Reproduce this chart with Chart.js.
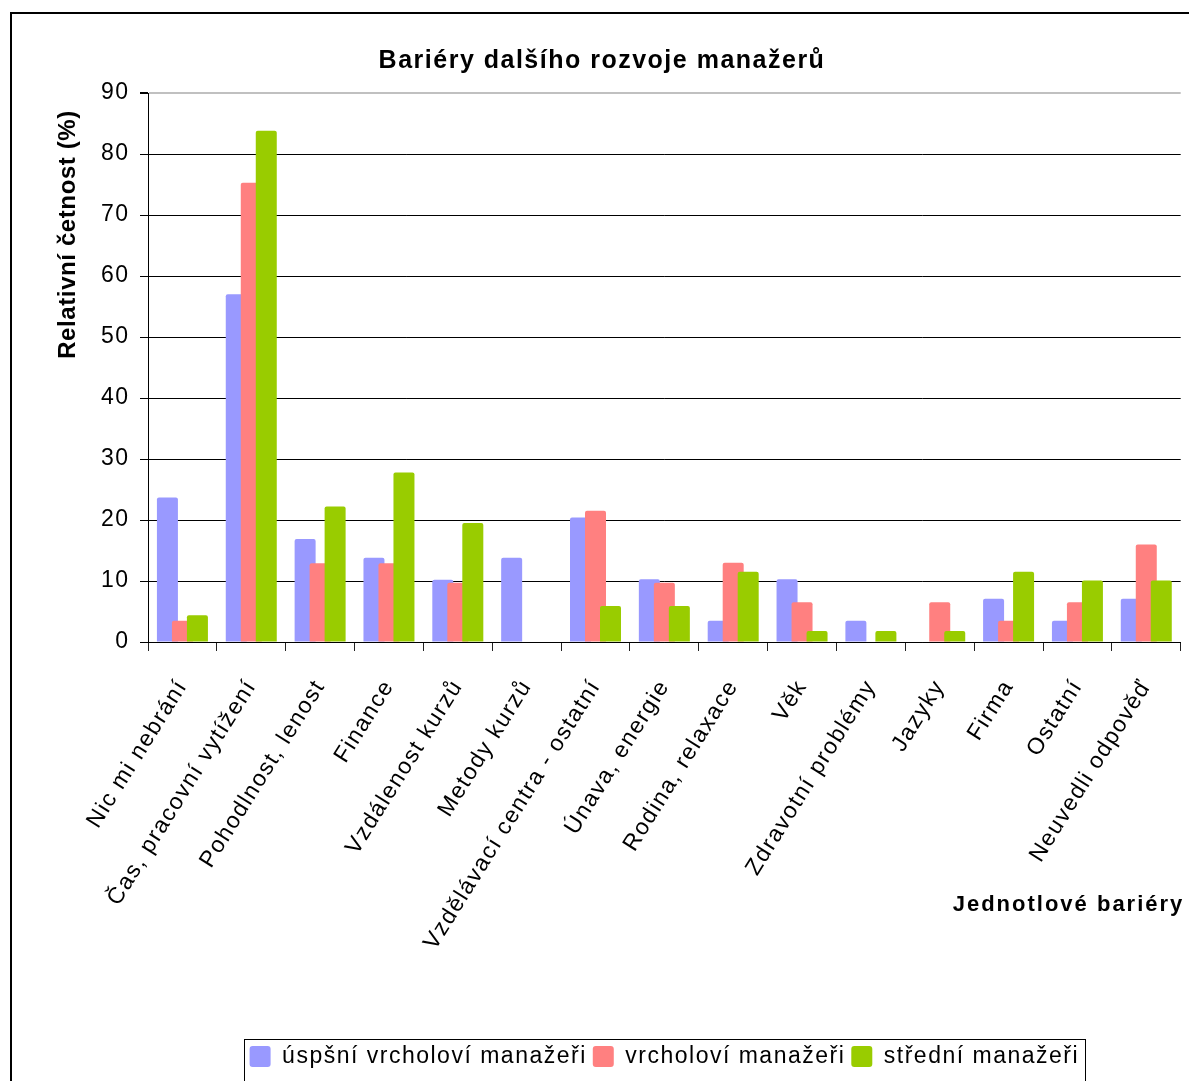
<!DOCTYPE html>
<html>
<head>
<meta charset="utf-8">
<title>Bariéry dalšího rozvoje manažerů</title>
<script src="https://cdn.jsdelivr.net/npm/chart.js@4.4.1/dist/chart.umd.min.js"></script>
<style>
  html, body { margin: 0; padding: 0; background: #fff; overflow: hidden; width: 1189px; height: 1081px; }
  #frame { position: absolute; left: 10px; top: 12px; width: 1400px; height: 1400px;
           border-top: 2px solid #000; border-left: 2px solid #000; }
  #wrap { position: absolute; left: 0; top: 0; width: 1204px; height: 1081px; }
</style>
</head>
<body>
<div id="frame"></div>
<div id="wrap"><canvas id="chart" width="1204" height="1081"></canvas></div>
<script>
// Barriers listed on the category axis
const categories = [
  'Nic mi nebrání',
  'Čas, pracovní vytížení',
  'Pohodlnost, lenost',
  'Finance',
  'Vzdálenost kurzů',
  'Metody kurzů',
  'Vzdělávací centra - ostatní',
  'Únava, energie',
  'Rodina, relaxace',
  'Věk',
  'Zdravotní problémy',
  'Jazyky',
  'Firma',
  'Ostatní',
  'Neuvedli odpověď'
];

// Relative frequency (%) for each manager group
const uspesniVrcholovi = [23.7, 57.0, 16.9, 13.8, 10.2, 13.8, 20.4, 10.3, 3.5, 10.3, 3.5, 0, 7.1, 3.5, 7.1];
const vrcholovi        = [3.5, 75.3, 12.9, 12.9, 9.7, 0, 21.5, 9.7, 13.0, 6.5, 0, 6.5, 3.5, 6.5, 16.0];
const stredni          = [4.4, 83.8, 22.2, 27.8, 19.5, 0, 5.9, 5.9, 11.5, 1.8, 1.8, 1.8, 11.5, 10.1, 10.1];

const seriesNames = ['úspšní vrcholoví manažeři', 'vrcholoví manažeři', 'střední manažeři'];
const seriesColors = ['#9999FF', '#FF8080', '#99CC00'];

// Value axis ticks
const yTicks = [0, 10, 20, 30, 40, 50, 60, 70, 80, 90];

const chartTitle = 'Bariéry dalšího rozvoje manažerů';
const yTitle = 'Relativní četnost (%)';
const xTitle = 'Jednotlové bariéry';

const FONT = '"Liberation Sans", Arial, sans-serif';
Chart.defaults.font.family = FONT;
Chart.defaults.color = '#000';

// Slightly widened letter spacing for the canvas text
const spacing = {
  id: 'spacing',
  beforeUpdate(chart) { chart.ctx.letterSpacing = '1.5px'; },
  beforeDraw(chart) { chart.ctx.letterSpacing = '1.5px'; }
};

// Draw the series in order so later bars overlap earlier ones
const paintOrder = {
  id: 'paintOrder',
  beforeDatasetsDraw(chart) {
    for (let i = 0; i < chart.data.datasets.length; i++) {
      const meta = chart.getDatasetMeta(i);
      if (meta.visible) meta.controller.draw();
    }
    return false;
  }
};

// Plot frame on the right, legend frame and both axis captions
const decorations = {
  id: 'decorations',
  beforeDatasetsDraw(chart) {
    const { ctx, chartArea } = chart;
    ctx.save();
    ctx.strokeStyle = '#c0c0c0';
    ctx.lineWidth = 2;
    ctx.beginPath();
    ctx.moveTo(chartArea.right, chartArea.top - 1);
    ctx.lineTo(chartArea.right, chartArea.bottom);
    ctx.stroke();
    ctx.restore();
  },
  afterDraw(chart) {
    const { ctx, chartArea, legend } = chart;
    ctx.save();
    const boxes = legend.legendHitBoxes;
    if (boxes && boxes.length) {
      const first = boxes[0], last = boxes[boxes.length - 1];
      const left = Math.round(first.left - 6) + 0.5;
      const right = Math.round(last.left + last.width + 6) + 0.5;
      const top = Math.round(legend.top) + 0.5;
      ctx.strokeStyle = '#000';
      ctx.lineWidth = 1;
      ctx.strokeRect(left, top, right - left, 42.5);
    }
    ctx.fillStyle = '#000';
    ctx.textBaseline = 'middle';

    // category axis caption
    ctx.letterSpacing = '2px';
    ctx.font = 'bold 22px ' + FONT;
    ctx.textAlign = 'left';
    ctx.fillText(xTitle, chartArea.right - 228, chartArea.bottom + 263);

    // value axis caption
    ctx.letterSpacing = '0.6px';
    ctx.font = 'bold 24px ' + FONT;
    ctx.textAlign = 'center';
    ctx.translate(68, chartArea.top + 141.5);
    ctx.rotate(-Math.PI / 2);
    ctx.fillText(yTitle, 0, 0);
    ctx.restore();
  }
};

const datasets = [uspesniVrcholovi, vrcholovi, stredni].map((values, i) => ({
  label: seriesNames[i],
  data: values,
  backgroundColor: seriesColors[i],
  borderWidth: 0,
  borderRadius: { topLeft: 2, topRight: 2, bottomLeft: 0, bottomRight: 0 },
  borderSkipped: 'bottom',
  categoryPercentage: 0.6536,
  barPercentage: 1.4
}));

new Chart(document.getElementById('chart'), {
  type: 'bar',
  data: { labels: categories, datasets },
  plugins: [spacing, paintOrder, decorations],
  options: {
    responsive: false,
    animation: false,
    devicePixelRatio: 1,
    layout: { padding: { left: 0, right: 0, top: 0, bottom: 3 } },
    plugins: {
      title: {
        display: true,
        text: chartTitle,
        font: { size: 25, weight: 'bold' },
        color: '#000',
        padding: { top: 46, bottom: 17 }
      },
      legend: {
        position: 'bottom',
        fullSize: false,
        labels: {
          font: { size: 23 },
          color: '#000',
          boxWidth: 21,
          boxHeight: 21,
          useBorderRadius: true,
          borderRadius: 3,
          padding: 6
        }
      },
      tooltip: { enabled: false }
    },
    scales: {
      x: {
        offset: true,
        grid: {
          offset: true,
          drawOnChartArea: false,
          drawTicks: true,
          tickLength: 9,
          tickColor: '#222',
          color: '#222'
        },
        border: { color: '#000', width: 1 },
        ticks: {
          autoSkip: false,
          minRotation: 58,
          maxRotation: 58,
          font: { size: 23 },
          color: '#000',
          padding: 24
        },
        afterFit(scale) { scale.height = 397; }
      },
      y: {
        min: 0,
        max: 90,
        afterBuildTicks(scale) { scale.ticks = yTicks.map(v => ({ value: v })); },
        grid: {
          color: c => (c.tick && c.tick.value === 90 ? '#c0c0c0' : '#000'),
          lineWidth: c => (c.tick && c.tick.value === 90 ? 2 : 1),
          tickColor: '#000',
          tickLength: 8
        },
        border: { color: '#000', width: 1 },
        ticks: {
          font: { size: 23 },
          color: '#000',
          padding: 10.5
        },
        afterFit(scale) { scale.width = 148; }
      },
      // empty margin on the right of the plot
      yRight: {
        position: 'right',
        display: true,
        grid: { display: false, drawTicks: false },
        border: { display: false },
        ticks: { display: false },
        afterFit(scale) { scale.width = 23.3; }
      }
    }
  }
});
</script>
</body>
</html>
